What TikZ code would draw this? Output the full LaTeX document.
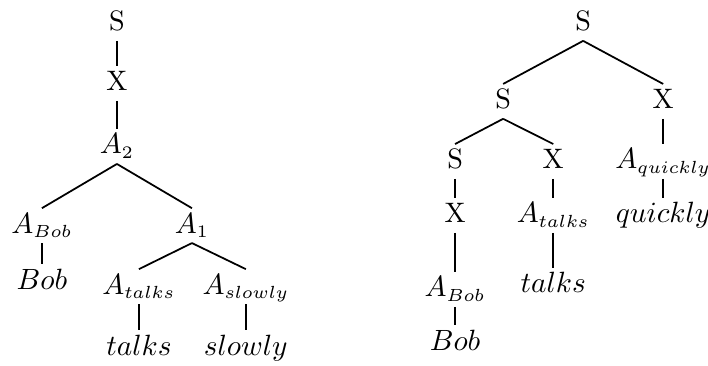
\documentclass[tikz,border=0pt]{standalone}
\usepackage{amsmath}
\usepackage{tikz}
\usetikzlibrary{positioning}
\DeclareMathSizes{9.6}{9.6}{6.4}{5}

\begin{document}
\begin{tikzpicture}[semithick, on grid,
    every node/.style={font=\fontsize{9.6}{11.5}\selectfont,
      text height=7pt, text depth=1.9pt, inner ysep=1.2pt}]
      \useasboundingbox (0,0) rectangle (241.6pt,-124.6pt);
      % left tree
      \node (s1) at (39.9pt,-8pt) {S};
      \node (x1) [below=20.5pt of s1] {X};
      \node (a2) [below=21.5pt of x1] {$A_2$};
      \node (abob1) [below left=27pt and 25.6pt of a2] {$A_{Bob}$};
      \node (a1) [below right=27pt and 25.6pt of a2] {$A_1$};
      \node (bob1) [below=19.1pt of abob1] {$Bob$};
      \node (atalks1) [below left=20.8pt and 18.1pt of a1] {$A_{talks}$};
      \node (aslowly) [below right=20.8pt and 18.4pt of a1] {$A_{slowly}$};
      \node (talks1) [below=20.8pt of atalks1] {$talks$};
      \node (slowly) [below=20.8pt of aslowly] {$slowly$};

      % right tree
      \node (s2) at (199pt,-8pt) {S};
      \node (s3) [below left=26.6pt and 27.3pt of s2] {S};
      \node (x2) [below right=26.6pt and 27.3pt of s2] {X};
      \node (s4) [below left=20.5pt and 16.4pt of s3] {S};
      \node (x3) [below right=20.5pt and 17.1pt of s3] {X};
      \node (aquickly) [below=20.5pt of x2] {$A_{quickly}$};
      \node (x4) [below=18.4pt of s4] {X};
      \node (atalks2) [below=18.4pt of x3] {$A_{talks}$};
      \node (quickly) [below=18.4pt of aquickly] {$quickly$};
      \node (abob2) [below=25.3pt of x4] {$A_{Bob}$};
      \node (talks2) [below=23.9pt of atalks2] {$talks$};
      \node (bob2) [below=18.1pt of abob2] {$Bob$};

      \path (s1.south) edge (x1.north)
            (x1.south) edge (a2.north)
            (a2.south) edge (abob1.north)
            (a2.south) edge (a1.north)
            (abob1.south) edge (bob1.north)
            (a1.south) edge (atalks1.north)
            (a1.south) edge (aslowly.north)
            (atalks1.south) edge (talks1.north)
            (aslowly.south) edge (slowly.north)
            ;
      \path (s2.south) edge (s3.north)
            (s2.south) edge (x2.north)
            (s3.south) edge (s4.north)
            (s3.south) edge (x3.north)
            (x2.south) edge (aquickly.north)
            (s4.south) edge (x4.north)
            (x3.south) edge (atalks2.north)
            (aquickly.south) edge (quickly.north)
            (x4.south) edge (abob2.north)
            (atalks2.south) edge (talks2.north)
            (abob2.south) edge (bob2.north)
            ;
    \end{tikzpicture}
\end{document}
